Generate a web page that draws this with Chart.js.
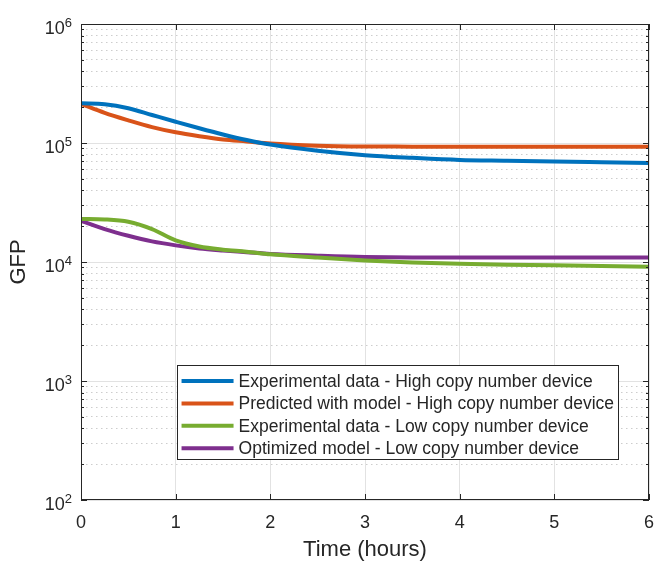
<!DOCTYPE html>
<html>
<head>
<meta charset="utf-8">
<script src="https://cdn.jsdelivr.net/npm/chart.js@4.4.1/dist/chart.umd.min.js"></script>
<style>
  html, body { margin: 0; padding: 0; background: #fff; }
  #wrap { width: 655px; height: 564px; }
</style>
</head>
<body>
<div id="wrap"><canvas id="chartCanvas" width="655" height="564"></canvas></div>
<script>
// time in hours
const times = [0, 0.25, 0.5, 0.75, 1, 1.25, 1.5, 1.75, 2, 2.5, 3, 3.5, 4, 4.5, 5, 5.5, 6];

// GFP values
const expHigh  = [216000, 212000, 196000, 172000, 151000, 133000, 118000, 106000, 97000, 86000, 79000, 75000, 72000, 71000, 70000, 69000, 68000];
const predHigh = [213000, 179000, 155000, 136000, 123000, 114000, 107000, 103000, 99000, 95000, 93500, 93200, 93000, 93000, 93000, 93000, 93000];
const expLow   = [23000, 22800, 21800, 18900, 15200, 13500, 12700, 12200, 11600, 10900, 10300, 9900, 9650, 9500, 9400, 9250, 9100];
const optLow   = [22200, 18900, 16600, 14900, 13800, 13000, 12500, 12100, 11700, 11300, 11000, 10900, 10900, 10900, 10900, 10900, 10900];

const seriesLabels = [
  "Experimental data - High copy number device",
  "Predicted with model - High copy number device",
  "Experimental data - Low copy number device",
  "Optimized model - Low copy number device"
];
const seriesColors = ["#0072BD", "#D95319", "#77AC30", "#7E2F8E"];

const xTicks = [0, 1, 2, 3, 4, 5, 6];
const decades = [100, 1000, 10000, 100000, 1000000];
const minorFactors = [2, 3, 4, 5, 6, 7, 8, 9];

const yTicks = [];
decades.forEach((d, i) => {
  yTicks.push(d);
  if (i < decades.length - 1) minorFactors.forEach(f => yTicks.push(d * f));
});

const FONT = '"Liberation Sans", Arial, Helvetica, sans-serif';
const TEXT = "#262626";

function isDecade(v) {
  return decades.indexOf(v) !== -1;
}

function toPoints(vals) {
  return times.map((t, i) => ({ x: t, y: vals[i] }));
}

const axesDecor = {
  id: "axesDecor",
  afterDatasetsDraw(chart) {
    const ctx = chart.ctx;
    const a = chart.chartArea;
    const x = chart.scales.x;
    const y = chart.scales.y;
    ctx.save();
    ctx.strokeStyle = TEXT;
    ctx.lineWidth = 1;
    ctx.beginPath();
    y.ticks.forEach(t => {
      const py = Math.round(y.getPixelForValue(t.value)) + 0.5;
      const len = isDecade(t.value) ? 6 : 3;
      ctx.moveTo(a.left, py); ctx.lineTo(a.left + len, py);
      ctx.moveTo(a.right, py); ctx.lineTo(a.right - len, py);
    });
    x.ticks.forEach(t => {
      const px = Math.round(x.getPixelForValue(t.value)) + 0.5;
      ctx.moveTo(px, a.bottom); ctx.lineTo(px, a.bottom - 6);
      ctx.moveTo(px, a.top); ctx.lineTo(px, a.top + 6);
    });
    ctx.stroke();
    ctx.strokeRect(Math.round(a.left) + 0.5, Math.round(a.top) + 0.5,
      Math.round(a.right - a.left) - 1, Math.round(a.bottom - a.top) - 1);

    // y tick labels as 10 with superscript exponent
    ctx.fillStyle = TEXT;
    ctx.textBaseline = "alphabetic";
    ctx.textAlign = "right";
    decades.forEach(d => {
      const py = y.getPixelForValue(d);
      const exp = String(Math.round(Math.log10(d)));
      ctx.font = "13px " + FONT;
      const ew = ctx.measureText(exp).width;
      const rx = a.left - 9;
      ctx.fillText(exp, rx, py + 3);
      ctx.font = "18px " + FONT;
      ctx.fillText("10", rx - ew, py + 10);
    });
    ctx.restore();
  },
  afterDraw(chart) {
    // legend box inside the plot
    const ctx = chart.ctx;
    const a = chart.chartArea;
    const ds = chart.data.datasets;
    ctx.save();
    ctx.font = "17.5px " + FONT;
    let maxW = 0;
    ds.forEach(d => { maxW = Math.max(maxW, ctx.measureText(d.label).width); });
    const lineLen = 52, pad = 5, gap = 5, rowH = 22.4;
    const w = pad + lineLen + gap + maxW + 4;
    const h = 94;
    const right = a.right - 31;
    const left = right - w;
    const top = 365;
    ctx.fillStyle = "#fff";
    ctx.fillRect(left, top, w, h);
    ctx.strokeStyle = TEXT;
    ctx.lineWidth = 1;
    ctx.strokeRect(Math.round(left) + 0.5, top + 0.5, Math.round(w), h);
    ds.forEach((d, i) => {
      const cy = top + 16 + i * rowH;
      ctx.strokeStyle = d.borderColor;
      ctx.lineWidth = 4;
      ctx.beginPath();
      ctx.moveTo(left + pad, cy);
      ctx.lineTo(left + pad + lineLen, cy);
      ctx.stroke();
      ctx.fillStyle = TEXT;
      ctx.textAlign = "left";
      ctx.textBaseline = "middle";
      ctx.fillText(d.label, left + pad + lineLen + gap, cy + 1);
    });
    ctx.restore();
  }
};

const ctx = document.getElementById("chartCanvas").getContext("2d");

new Chart(ctx, {
  type: "line",
  data: {
    datasets: [expHigh, predHigh, expLow, optLow].map((vals, i) => ({
      label: seriesLabels[i],
      data: toPoints(vals),
      borderColor: seriesColors[i],
      backgroundColor: seriesColors[i],
      borderWidth: 4,
      pointRadius: 0,
      fill: false,
      cubicInterpolationMode: "monotone"
    }))
  },
  options: {
    responsive: false,
    animation: false,
    layout: { padding: { top: 24, right: 6, left: 0, bottom: 0 } },
    plugins: {
      legend: { display: false },
      tooltip: { enabled: false }
    },
    scales: {
      x: {
        type: "linear",
        min: 0,
        max: 6,
        afterBuildTicks: scale => { scale.ticks = xTicks.map(v => ({ value: v })); },
        afterFit: scale => {
          scale.height = 64;
          scale.paddingLeft = 0;
          scale.paddingRight = 0;
        },
        ticks: {
          color: TEXT,
          font: { family: FONT, size: 18 },
          padding: 12,
          maxRotation: 0
        },
        grid: { color: "#e2e2e2", lineWidth: 1, drawTicks: false },
        border: { display: false },
        title: {
          display: true,
          text: "Time (hours)",
          color: TEXT,
          font: { family: FONT, size: 22 },
          padding: { top: 0, bottom: 1 }
        }
      },
      y: {
        type: "logarithmic",
        min: 100,
        max: 1000000,
        afterBuildTicks: scale => { scale.ticks = yTicks.map(v => ({ value: v })); },
        afterFit: scale => { scale.width = 81; },
        ticks: { display: false },
        grid: {
          color: c => (c.tick && isDecade(c.tick.value)) ? "#e2e2e2" : "#cdcdcd",
          lineWidth: 1,
          drawTicks: false
        },
        border: {
          display: false,
          dash: c => (c.tick && !isDecade(c.tick.value)) ? [1.5, 3.5] : []
        },
        title: {
          display: true,
          text: "GFP",
          color: TEXT,
          font: { family: FONT, size: 22 },
          padding: { top: 6, bottom: 0 }
        }
      }
    }
  },
  plugins: [axesDecor]
});
</script>
</body>
</html>
